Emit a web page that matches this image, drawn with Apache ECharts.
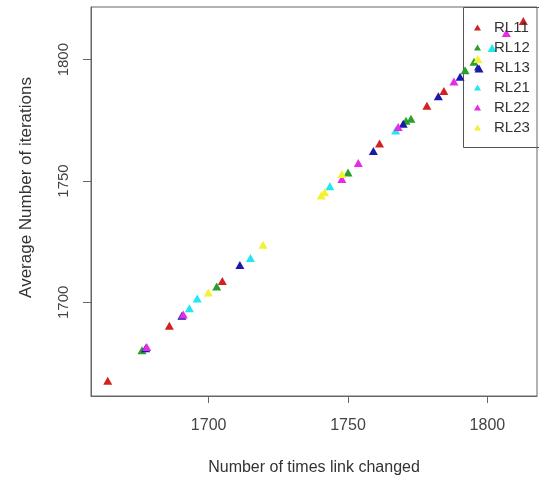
<!DOCTYPE html>
<html>
<head>
<meta charset="utf-8">
<script src="https://cdn.jsdelivr.net/npm/echarts@6/dist/echarts.min.js"></script>
<style>
html,body{margin:0;padding:0;background:#fff;}
#chart{width:539px;height:481px;}
</style>
</head>
<body>
<div id="chart"></div>
<script>
// Series names and colours
const seriesNames = ['RL11', 'RL12', 'RL13', 'RL21', 'RL22', 'RL23'];
const seriesColors = ['#d42020', '#2aa02a', '#1a1aa8', '#22e6f0', '#e62ae6', '#f2f230'];

// Data: [number of times link changed, average number of iterations]
const rl11 = [[1663.8,1667.7],[1685.9,1690.3],[1704.9,1708.8],[1761.3,1765.4],[1778.3,1781.0],[1784.4,1787.1],[1812.9,1815.9]];
const rl12 = [[1676.1,1680.3],[1702.9,1706.5],[1750.0,1753.5],[1770.8,1774.8],[1772.6,1775.6],[1792.0,1795.6],[1795.2,1799.1]];
const rl13 = [[1677.4,1681.1],[1690.4,1694.5],[1711.2,1715.4],[1759.1,1762.4],[1769.8,1773.6],[1782.4,1784.9],[1790.2,1793.0],[1797.0,1796.4]];
const rl21 = [[1693.1,1697.6],[1695.9,1701.6],[1715.0,1718.3],[1743.5,1747.8],[1767.1,1770.8],[1801.7,1804.8]];
const rl22 = [[1677.8,1681.6],[1690.9,1695.0],[1747.8,1750.8],[1753.7,1757.4],[1768.0,1772.3],[1788.0,1791.0],[1806.8,1811.0]];
const rl23 = [[1699.9,1704.0],[1719.5,1723.7],[1740.4,1744.0],[1741.6,1745.4],[1747.8,1752.9],[1796.6,1800.3]];
const allSeries = [rl11, rl12, rl13, rl21, rl22, rl23];

// Axis ticks
const xTicks = [1700, 1750, 1800];
const yTicks = [1700, 1750, 1800];

const chart = echarts.init(document.getElementById('chart'), null, {renderer: 'canvas'});
const font = 'Liberation Sans, Arial, sans-serif';

const option = {
  animation: false,
  backgroundColor: '#ffffff',
  grid: {
    left: 91, top: 7, right: 2, bottom: 84,
    show: true, borderColor: '#666', borderWidth: 1, backgroundColor: 'transparent'
  },
  graphic: [{
    type: 'rect',
    shape: {x: 463.5, y: 7.5, width: 120, height: 140},
    style: {fill: 'none', stroke: '#555', lineWidth: 1},
    silent: true,
    z: 1
  }],
  legend: {
    orient: 'vertical',
    left: 463, top: 7,
    data: seriesNames,
    icon: 'triangle',
    itemWidth: 7, itemHeight: 6,
    itemGap: 5,
    padding: [13, 10, 12, 11],
    backgroundColor: 'transparent',
    textStyle: {fontFamily: font, fontSize: 15, color: '#333', padding: [0, 0, 0, 8], lineHeight: 15},
    selectedMode: false
  },
  xAxis: {
    type: 'value',
    min: 1657.8, max: 1817.8,
    name: 'Number of times link changed',
    nameLocation: 'middle',
    nameGap: 64,
    nameTextStyle: {fontFamily: font, fontSize: 16, color: '#333'},
    splitLine: {show: false},
    axisLine: {show: true, lineStyle: {color: '#666'}},
    axisTick: {show: true, length: 7, lineStyle: {color: '#666'}, customValues: xTicks},
    axisLabel: {fontFamily: font, fontSize: 16, color: '#444', margin: 22, customValues: xTicks,
      formatter: v => String(v)}
  },
  yAxis: {
    type: 'value',
    min: 1661.4, max: 1821.7,
    name: 'Average Number of iterations',
    nameLocation: 'middle',
    nameGap: 56,
    nameTextStyle: {fontFamily: font, fontSize: 17, color: '#333', padding: [0, 0, 0, 28]},
    splitLine: {show: false},
    axisLine: {show: true, lineStyle: {color: '#666'}},
    axisTick: {show: true, length: 8, lineStyle: {color: '#666'}, customValues: yTicks},
    axisLabel: {fontFamily: font, fontSize: 15, color: '#444', margin: 20, rotate: 90, customValues: yTicks,
      formatter: v => String(v)}
  },
  series: seriesNames.map((n, i) => ({
    name: n,
    type: 'scatter',
    data: allSeries[i],
    symbol: 'triangle',
    symbolSize: [9, 8],
    itemStyle: {color: seriesColors[i], opacity: 1}
  }))
};
chart.setOption(option);
</script>
</body>
</html>
